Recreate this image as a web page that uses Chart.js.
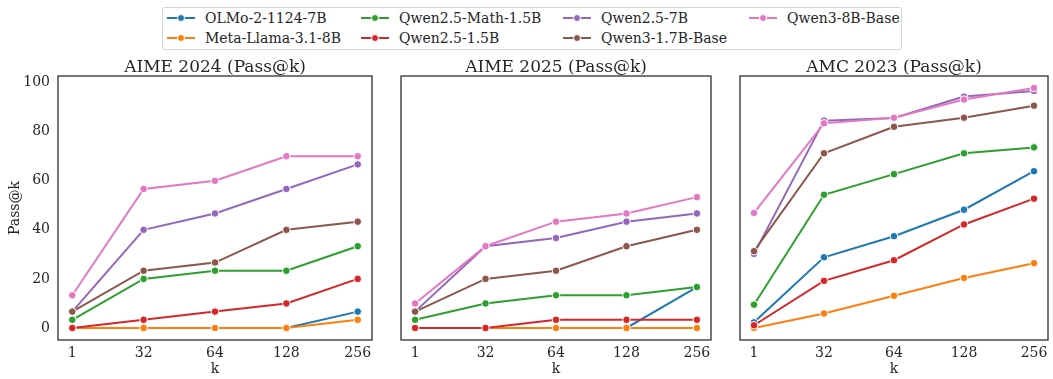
<!DOCTYPE html>
<html>
<head>
<meta charset="utf-8">
<script src="https://cdn.jsdelivr.net/npm/chart.js@4.4.1/dist/chart.umd.min.js"></script>
<style>
  html, body { margin: 0; padding: 0; background: #fff; overflow: hidden; }
  body { width: 1053px; height: 379px; position: relative; font-family: "DejaVu Serif", serif; color: #262626; }
  canvas { position: absolute; }
  #legend {
    position: absolute; left: 162px; top: 7px; width: 740px; height: 43px;
    border: 1px solid #d6d6d6; border-radius: 3px; background: #fff; box-sizing: border-box;
  }
  .item { position: absolute; font-size: 14px; line-height: 16px; white-space: nowrap; }
  .handle { position: absolute; width: 28px; height: 2px; top: 7px; left: 0; }
  .dot { position: absolute; width: 6px; height: 6px; border-radius: 50%; border: 1px solid #fff; left: 10px; top: -3px; }
  .item span.txt { position: absolute; left: 38px; top: 0; }
</style>
</head>
<body>
<div id="legend"></div>
<canvas id="c1" width="377" height="331" style="left:0px;top:48px"></canvas>
<canvas id="c2" width="320" height="331" style="left:396px;top:48px"></canvas>
<canvas id="c3" width="318" height="331" style="left:735px;top:48px"></canvas>
<script>
// k values on the x axis
const kLabels = ['1', '32', '64', '128', '256'];
const yTicks = [0, 20, 40, 60, 80, 100];

const models = ['OLMo-2-1124-7B', 'Meta-Llama-3.1-8B', 'Qwen2.5-Math-1.5B', 'Qwen2.5-1.5B',
                'Qwen2.5-7B', 'Qwen3-1.7B-Base', 'Qwen3-8B-Base'];
const colors = ['#1f77b4', '#ff7f0e', '#2ca02c', '#d62728', '#9467bd', '#8c564b', '#e377c2'];

// Pass@k per model (rows follow `models`)
const aime2024 = [
  [0, 0, 0, 0, 6.67],
  [0, 0, 0, 0, 3.33],
  [3.33, 20, 23.33, 23.33, 33.33],
  [0, 3.33, 6.67, 10, 20],
  [6.67, 40, 46.67, 56.67, 66.67],
  [6.67, 23.33, 26.67, 40, 43.33],
  [13.33, 56.67, 60, 70, 70]
];
const aime2025 = [
  [0, 0, 0, 0, 16.67],
  [0, 0, 0, 0, 0],
  [3.33, 10, 13.33, 13.33, 16.67],
  [0, 0, 3.33, 3.33, 3.33],
  [6.67, 33.33, 36.67, 43.33, 46.67],
  [6.67, 20, 23.33, 33.33, 40],
  [10, 33.33, 43.33, 46.67, 53.33]
];
const amc2023 = [
  [2.3, 28.8, 37.4, 48.2, 63.9],
  [0, 5.9, 13.1, 20.4, 26.4],
  [9.5, 54.3, 62.7, 71.2, 73.6],
  [1.1, 19.2, 27.6, 42.2, 52.7],
  [30.2, 84.5, 85.6, 94.3, 96.6],
  [31.3, 71.2, 82.0, 85.7, 90.6],
  [46.9, 83.4, 85.7, 93.1, 97.8]
];

const INK = '#262626';
const SERIF = '"DejaVu Serif", serif';

// legend: 4 columns, filled column by column
const legendCols = [4, 198, 400, 586];
const legendRows = [2, 22];
const legend = document.getElementById('legend');
models.forEach((name, i) => {
  const col = Math.floor(i / 2), row = i % 2;
  const el = document.createElement('div');
  el.className = 'item';
  el.style.left = legendCols[col] + 'px';
  el.style.top = legendRows[row] + 'px';
  el.innerHTML = '<div class="handle" style="background:' + colors[i] + '"><div class="dot" style="background:' + colors[i] + '"></div></div><span class="txt"></span>';
  el.querySelector('.txt').textContent = name;
  legend.appendChild(el);
});

// axes frame (all four spines) and a panel title centred over the plot area
const framePlugin = {
  id: 'frame',
  afterDraw(chart, args, opts) {
    const a = chart.chartArea, ctx = chart.ctx;
    ctx.save();
    ctx.strokeStyle = INK;
    ctx.lineWidth = 1.25;
    ctx.strokeRect(a.left, a.top, a.right - a.left, a.bottom - a.top);
    ctx.fillStyle = INK;
    ctx.font = '17px ' + SERIF;
    ctx.textAlign = 'center';
    ctx.textBaseline = 'alphabetic';
    ctx.fillText(opts.text, (a.left + a.right) / 2, a.top - 4);
    ctx.restore();
  }
};

function makeChart(id, title, table, showY, padRight) {
  const datasets = table.map((vals, i) => ({
    label: models[i],
    data: vals.map((v, j) => ({ x: j, y: v })),
    borderColor: colors[i],
    backgroundColor: colors[i],
    pointBackgroundColor: colors[i],
    pointBorderColor: '#ffffff',
    pointBorderWidth: 1,
    pointRadius: 3.8,
    borderWidth: 2,
    order: models.length - i
  }));
  return new Chart(document.getElementById(id), {
    type: 'line',
    data: { datasets },
    plugins: [framePlugin],
    options: {
      responsive: false,
      animation: false,
      devicePixelRatio: 1,
      layout: { padding: { top: 28, right: padRight, bottom: 0, left: showY ? 0 : 2 } },
      plugins: {
        legend: { display: false },
        tooltip: { enabled: false },
        title: { display: false },
        frame: { text: title }
      },
      scales: {
        x: {
          type: 'linear', min: -0.2, max: 4.2,
          grid: { display: false, drawTicks: false },
          border: { display: false },
          afterBuildTicks: s => { s.ticks = kLabels.map((_, i) => ({ value: i })); },
          afterFit: s => { s.height = 39; },
          ticks: {
            color: INK, padding: 5, maxRotation: 0, autoSkip: false,
            font: { family: SERIF, size: 14 },
            callback: v => kLabels[v]
          },
          title: {
            display: true, text: 'k', color: INK,
            font: { family: SERIF, size: 14 },
            padding: { top: 0, bottom: 1 }
          }
        },
        y: {
          display: showY,
          min: -4.9, max: 102.7,
          grid: { display: false, drawTicks: false },
          border: { display: false },
          afterBuildTicks: s => { s.ticks = yTicks.map(v => ({ value: v })); },
          afterFit: s => { s.width = showY ? 58 : 0; },
          ticks: { color: INK, padding: 8, font: { family: SERIF, size: 14 } },
          title: {
            display: true, text: 'Pass@k', color: INK,
            font: { family: SERIF, size: 14 },
            padding: { top: 7, bottom: 0 }
          }
        }
      }
    }
  });
}

makeChart('c1', 'AIME 2024 (Pass@k)', aime2024, true, 2);
makeChart('c2', 'AIME 2025 (Pass@k)', aime2025, false, 2);
makeChart('c3', 'AMC 2023 (Pass@k)', amc2023, false, 1);
</script>
</body>
</html>
